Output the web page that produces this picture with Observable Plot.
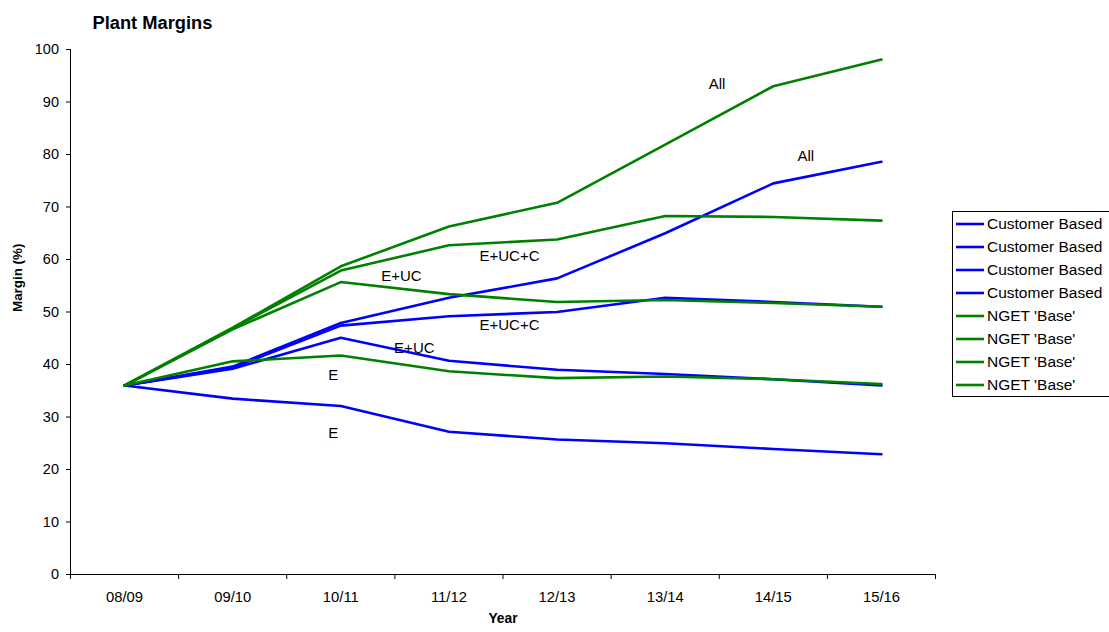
<!DOCTYPE html>
<html>
<head>
<meta charset="utf-8">
<script src="https://cdn.jsdelivr.net/npm/d3@7"></script>
<script src="https://cdn.jsdelivr.net/npm/@observablehq/plot@0.6"></script>
<style>
  html, body { margin: 0; padding: 0; background: white; }
  #wrap { position: relative; width: 1109px; height: 632px; font-family: "Liberation Sans", Arial, sans-serif; }
  #legend { position: absolute; left: 952px; top: 211px; width: 160px; height: 186px; border: 1px solid black; background: white; box-sizing: border-box; padding-top: 0px; }
  .li { height: 23px; display: flex; align-items: center; font-size: 15.5px; color: black; white-space: nowrap; }
  .li svg { margin-left: 3px; margin-right: 3px; }
</style>
</head>
<body>
<div id="wrap"></div>
<script>
const years = ["08/09", "09/10", "10/11", "11/12", "12/13", "13/14", "14/15", "15/16"];

// Customer Based (blue)
const custE    = [36.0, 33.5, 32.1, 27.2, 25.7, 25.0, 23.9, 22.9];
const custEUC  = [36.0, 39.2, 45.1, 40.7, 39.0, 38.2, 37.2, 36.0];
const custEUCC = [36.0, 39.4, 47.4, 49.2, 50.0, 52.7, 51.9, 51.0];
const custAll  = [36.0, 39.6, 47.9, 52.7, 56.4, 65.0, 74.5, 78.6];

// NGET 'Base' (green)
const ngetE    = [36.0, 40.6, 41.7, 38.7, 37.4, 37.7, 37.2, 36.3];
const ngetEUC  = [36.0, 46.7, 55.7, 53.4, 51.9, 52.3, 51.7, 51.0];
const ngetEUCC = [36.0, 46.9, 57.9, 62.7, 63.8, 68.3, 68.1, 67.4];
const ngetAll  = [36.0, 47.0, 58.7, 66.3, 70.8, 81.9, 93.0, 98.1];

// annotation labels (x in category-index units, y in margin %)
const labelText = ["All", "All", "E+UC+C", "E+UC+C", "E+UC", "E+UC", "E", "E"];
const labelX    = [5.48, 6.30, 3.56, 3.56, 2.56, 2.68, 1.93, 1.93];
const labelY    = [93.3, 79.6, 60.6, 47.4, 56.8, 43.2, 37.9, 27.0];

const legendNames = ["Customer Based", "Customer Based", "Customer Based", "Customer Based",
                     "NGET 'Base'", "NGET 'Base'", "NGET 'Base'", "NGET 'Base'"];

const blueSeries = [custE, custEUC, custEUCC, custAll];
const greenSeries = [ngetE, ngetEUC, ngetEUCC, ngetAll];

function rows(series, group) {
  return series.flatMap((vals, s) => vals.map((v, i) => ({i, v, s: group + s})));
}
const blueRows = rows(blueSeries, "b");
const greenRows = rows(greenSeries, "g");
const labels = labelText.map((t, k) => ({t, x: labelX[k], y: labelY[k]}));

const idx = d3.range(years.length);
const bounds = d3.range(years.length + 1).map(i => i - 0.5);

const BLUE = "#0000FF", GREEN = "#008000";

const chart = Plot.plot({
  width: 1109,
  height: 632,
  marginLeft: 70,
  marginRight: 174,
  marginTop: 49,
  marginBottom: 58,
  style: { fontFamily: "'Liberation Sans', Arial, sans-serif", fontSize: "14.5px", color: "black", background: "white" },
  x: { domain: [-0.5, years.length - 0.5], axis: null },
  y: { domain: [0, 100], axis: null },
  marks: [
    Plot.axisY(d3.range(0, 101, 10), { tickSize: 4, tickPadding: 7.5, label: null, fontSize: 14.5 }),
    Plot.axisX(bounds, { tickSize: 5, tickFormat: () => "", label: null }),
    Plot.axisX(idx, { tickSize: 0, tickPadding: 17, tickFormat: i => years[i], label: null, fontSize: 14.8 }),
    Plot.ruleX([-0.5], { stroke: "black", strokeWidth: 1 }),
    Plot.ruleY([0], { stroke: "black", strokeWidth: 1 }),
    Plot.line(blueRows, { x: "i", y: "v", z: "s", stroke: BLUE, strokeWidth: 2.6 }),
    Plot.line(greenRows, { x: "i", y: "v", z: "s", stroke: GREEN, strokeWidth: 2.6 }),
    Plot.text(labels, { x: "x", y: "y", text: "t", fontSize: 15, fill: "black", textAnchor: "middle" }),
    Plot.text(["Plant Margins"], { frameAnchor: "top-left", dx: 22, dy: -34, textAnchor: "start", fontWeight: "bold", fontSize: 18.3 }),
    Plot.text(["Year"], { frameAnchor: "bottom", dy: 48, fontWeight: "bold", fontSize: 13.8 }),
    Plot.text(["Margin (%)"], { frameAnchor: "left", dx: -53, rotate: -90, fontWeight: "bold", fontSize: 13.4 })
  ]
});

const wrap = document.getElementById("wrap");
wrap.appendChild(chart);

const legend = document.createElement("div");
legend.id = "legend";
legendNames.forEach((name, k) => {
  const row = document.createElement("div");
  row.className = "li";
  const color = k < 4 ? BLUE : GREEN;
  row.innerHTML = `<svg width="28" height="6"><line x1="0" x2="28" y1="3" y2="3" stroke="${color}" stroke-width="2.6"/></svg><span>${name}</span>`;
  legend.appendChild(row);
});
wrap.appendChild(legend);
</script>
</body>
</html>
